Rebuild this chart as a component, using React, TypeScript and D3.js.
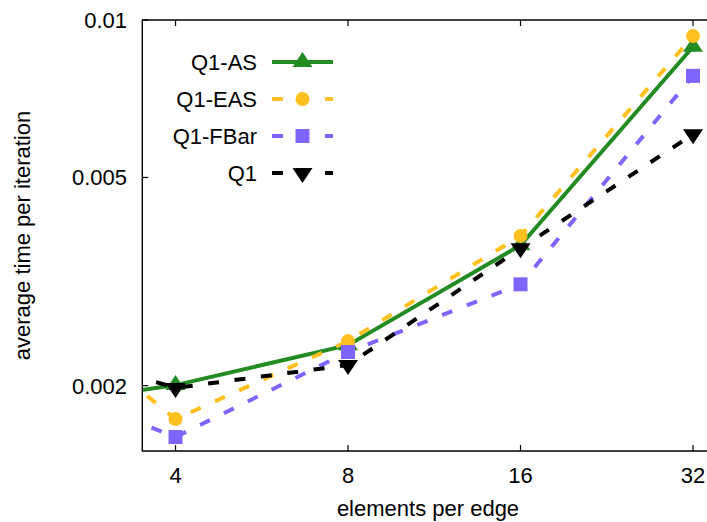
import React from "react";
import * as d3 from "d3";

const xValues = [2, 4, 8, 16, 32];
const seriesNames = ["Q1-AS", "Q1-EAS", "Q1-FBar", "Q1"];
const q1AS = [0.00179, 0.002005, 0.00239, 0.00371, 0.00889];
const q1EAS = [0.00321, 0.001726, 0.002433, 0.003866, 0.00932];
const q1FBar = [0.002153, 0.001595, 0.002319, 0.003124, 0.00782];
const q1 = [0.00248, 0.00198, 0.00219, 0.00366, 0.00605];
const xTicks = [4, 8, 16, 32];
const yTicks = [0.002, 0.005, 0.01];
const yTickLabels = ["0.002", "0.005", "0.01"];

const W = 707;
const H = 522;
const left = 142.3;
const right = 714;
const top = 20;
const bottom = 451;

const styles = [
  { color: "#228b22", dash: null as string | null, marker: "up" },
  { color: "#ffc020", dash: "11 15.6", marker: "circle" },
  { color: "#8064ff", dash: "11 15.6", marker: "square" },
  { color: "#000000", dash: "11 15.6", marker: "down" },
];

const FONT = "'Liberation Sans', Arial, sans-serif";

function Marker({ kind, x, y, color }: { kind: string; x: number; y: number; color: string }) {
  if (kind === "circle") return <circle cx={x} cy={y} r={7} fill={color} />;
  if (kind === "square") return <rect x={x - 7} y={y - 7} width={14} height={14} fill={color} />;
  if (kind === "up")
    return <path d={`M${x},${y - 10}L${x + 10},${y + 5}L${x - 10},${y + 5}Z`} fill={color} />;
  return <path d={`M${x},${y + 10}L${x + 10},${y - 5}L${x - 10},${y - 5}Z`} fill={color} />;
}

export default function App() {
  const data = [q1AS, q1EAS, q1FBar, q1];
  const x = d3.scaleLog().base(2).domain([3.5, 32 * Math.pow(2, (right - 693) / 172.6)]).range([left, right]);
  const y = d3.scaleLog().domain([0.0015, 0.01]).range([bottom, top]);
  const line = d3
    .line<number>()
    .x((_, i) => x(xValues[i]))
    .y((d) => y(d));

  const legendRows = [62, 99, 136, 173];

  return (
    <svg width={W} height={H} style={{ position: "absolute", left: 0, top: 0 }} fontFamily={FONT}>
      <defs>
        <clipPath id="plot">
          <rect x={left} y={top} width={right - left} height={bottom - top} />
        </clipPath>
      </defs>
      <rect width={W} height={H} fill="#fff" />
      {xTicks.map((t) => (
        <g key={t}>
          <line x1={x(t)} x2={x(t)} y1={bottom} y2={bottom - 6} stroke="#000" strokeWidth={1.2} />
          <line x1={x(t)} x2={x(t)} y1={top} y2={top + 6} stroke="#000" strokeWidth={1.2} />
          <text x={x(t)} y={483} textAnchor="middle" fontSize={22}>
            {t}
          </text>
        </g>
      ))}
      {yTicks.map((t, i) => (
        <g key={t}>
          <line x1={left} x2={left + 6} y1={y(t)} y2={y(t)} stroke="#000" strokeWidth={1.2} />
          <text x={127} y={y(t) + 8} textAnchor="end" fontSize={22}>
            {yTickLabels[i]}
          </text>
        </g>
      ))}
      <g clipPath="url(#plot)">
        {data.map((vals, si) => (
          <g key={si}>
            <path
              d={line(vals) || ""}
              fill="none"
              stroke={styles[si].color}
              strokeWidth={4}
              strokeDasharray={styles[si].dash || undefined}
            />
            {vals.map((v, i) => (
              <Marker key={i} kind={styles[si].marker} x={x(xValues[i])} y={y(v)} color={styles[si].color} />
            ))}
          </g>
        ))}
      </g>
      <path
        d={`M${left},${top}H${right}V${bottom}H${left}Z`}
        fill="none"
        stroke="#000"
        strokeWidth={1.4}
      />
      {seriesNames.map((name, i) => {
        const ry = legendRows[i];
        const s = styles[i];
        return (
          <g key={name}>
            <text x={257} y={ry + 8} textAnchor="end" fontSize={22}>
              {name}
            </text>
            {s.dash ? (
              <>
                <line x1={272} x2={283} y1={ry} y2={ry} stroke={s.color} strokeWidth={4} />
                <line x1={325} x2={333} y1={ry} y2={ry} stroke={s.color} strokeWidth={4} />
              </>
            ) : (
              <line x1={272} x2={333} y1={ry} y2={ry} stroke={s.color} strokeWidth={4} />
            )}
            <Marker kind={s.marker} x={302.5} y={ry} color={s.color} />
          </g>
        );
      })}
      <text x={428} y={516} textAnchor="middle" fontSize={22}>
        elements per edge
      </text>
      <text transform={`translate(30,235.5) rotate(-90)`} textAnchor="middle" fontSize={22}>
        average time per iteration
      </text>
    </svg>
  );
}
